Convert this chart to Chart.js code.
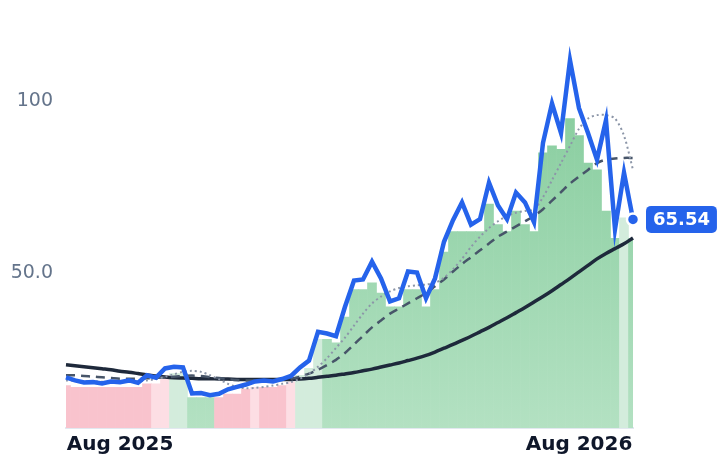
<!DOCTYPE html>
<html>
<head>
<meta charset="utf-8">
<script src="https://cdn.jsdelivr.net/npm/chart.js@4"></script>
<style>
  html, body { margin: 0; padding: 0; background: #fff; }
  #wrap { width: 718px; height: 464px; }
</style>
</head>
<body>
<div id="wrap"><canvas id="myChart"></canvas></div>
<script>
// weekly points, Jun 2025 -> Sep 2026
var price = [19.4,18.5,17.9,18,17.6,18.2,18,18.5,17.8,20,19.3,22,22.5,22.3,14.7,14.8,14.2,14.6,15.9,16.6,17.3,18.2,18.5,18.2,18.9,19.8,22.3,24.3,32.7,32.2,31.4,40,47.7,48,53.2,48.3,41.6,42.5,50.3,50,42.5,48.3,59,65.3,70.5,64,65.6,76.3,69.6,65.6,73.4,70.5,64.7,87.9,99.4,90.8,112,98,90.8,83,94.5,62.7,79.2,65.54];
var maShort = [18.5,18.4,18.3,18.2,18.1,18,18,18.1,18.2,18.5,18.9,19.5,20.3,21,21.3,21,20,18.8,17.5,16.6,16.2,16.3,16.6,17,17.5,18,19,20.5,22.5,25,28,31,34.5,38,41,43,44.5,45.5,46,46.3,46.5,47,48.5,51,54,57.5,60.5,63,65,66.5,67.5,68,68.5,72,77,82,87,92,95,96,96,95,90,80];
var maMid = [20,20,19.8,19.6,19.4,19.2,19,19,19,19.1,19.2,19.4,19.6,19.8,19.9,19.8,19.5,19.2,18.9,18.6,18.5,18.5,18.5,18.6,18.8,19,19.6,20.5,21.6,23,24.5,26.5,29,31.5,34,36,38,39.5,41,42.5,44,46,48,50.3,52.5,54.5,56.5,58.5,60.5,62,63.5,65,66.5,68.5,71,73.5,76,78,80,82,83,83.3,83.5,83.5];
var maLong = [23.1,22.8,22.5,22.2,21.9,21.6,21.2,20.9,20.5,20.1,19.8,19.5,19.3,19.2,19.1,19,19,18.9,18.9,18.8,18.8,18.8,18.8,18.8,18.8,18.8,18.9,19.1,19.4,19.7,20,20.4,20.8,21.3,21.8,22.4,23,23.6,24.3,25,25.8,26.8,27.9,29,30.2,31.4,32.7,34,35.4,36.8,38.3,39.8,41.4,43,44.7,46.5,48.3,50.2,52.1,54,55.6,57,58.4,60.1];
var weekLow = [17,16.5,16.5,16.5,16.5,16.5,16.5,16.5,16.5,17.5,17.5,20,20.5,20.5,13.5,13.5,13.5,13.5,14.5,14.5,16,16.5,16.5,16.5,17,18,20,22,30.5,30.5,29.5,37,45,45,47,44,40,40,45,45,40,45,56,62,62,62,62,70,64,62,68,64,62,85,87,86,95,90,82,80,68,60,66,60];
// R = red, r = light red, g = light green, G = green
var regime = "RRRRRRRRRRrrggGGGRRRRrRRRrgggGGGGGGGGGGGGGGGGGGGGGGGGGGGGGGGGGg";
var tickNames = { 6: "Aug 2025", 57: "Aug 2026" };

var labels = price.map(function (v, i) { return i; });
var lastIdx = price.length - 1;

function barColor(ctx) {
    var k = regime[ctx.dataIndex];
    if (k === "r") return "#fddee4";
    if (k === "R") return "#f9c3cd";
    if (k === "g") return "#d3ecdc";
    var area = ctx.chart.chartArea;
    if (!area) return "#8fd0a4";
    var g = ctx.chart.ctx.createLinearGradient(0, area.top, 0, area.bottom);
    g.addColorStop(0, "#7fc997");
    g.addColorStop(1, "#b3e1c2");
    return g;
}

var lastLabel = {
    id: "lastLabel",
    afterDatasetsDraw: function (chart) {
        var c = chart.ctx;
        var y = chart.scales.y.getPixelForValue(price[lastIdx]);
        var text = price[lastIdx].toFixed(2);
        c.save();
        c.font = "bold 18px 'DejaVu Sans'";
        var w = c.measureText(text).width + 14;
        var x0 = 646, h = 27;
        c.fillStyle = "#2563eb";
        c.beginPath();
        c.roundRect(x0, y - h / 2, w, h, 5);
        c.fill();
        c.fillStyle = "#fff";
        c.textBaseline = "middle";
        c.fillText(text, x0 + 7, y + 1);
        c.restore();
    }
};

new Chart("myChart", {
    type: "line",
    data: {
        labels: labels,
        datasets: [
            { type: "line", data: price, borderColor: "#2563eb", borderWidth: 4.5,
              pointRadius: labels.map(function (i) { return i === lastIdx ? 6 : 0; }),
              pointBackgroundColor: "#2563eb", pointBorderColor: "#fff", pointBorderWidth: 2.5,
              tension: 0, order: 1 },
            { type: "line", data: maShort, borderColor: "#8c96a8", borderWidth: 2,
              borderDash: [2, 3], pointRadius: 0, tension: 0.3, order: 2 },
            { type: "line", data: maMid, borderColor: "#475569", borderWidth: 2.5,
              borderDash: [9, 6], pointRadius: 0, tension: 0.3, order: 3 },
            { type: "line", data: maLong, borderColor: "#1e293b", borderWidth: 3.5,
              pointRadius: 0, tension: 0.3, order: 4 },
            { type: "bar", data: weekLow, backgroundColor: barColor,
              barPercentage: 1, categoryPercentage: 1, order: 10 }
        ]
    },
    options: {
        responsive: true,
        maintainAspectRatio: false,
        animation: false,
        layout: { padding: { top: 20, right: 85, left: 0, bottom: 0 } },
        plugins: { legend: { display: false }, tooltip: { enabled: false } },
        scales: {
            x: {
                offset: false,
                grid: { display: false, drawTicks: false },
                border: { color: "#e2e8f0", width: 2 },
                afterFit: function (s) { s.height = 36; },
                ticks: {
                    autoSkip: false, maxRotation: 0, padding: 5,
                    color: "#0f172a", font: { size: 20, weight: "bold", family: "DejaVu Sans" },
                    callback: function (v) { return tickNames[v] || ""; }
                }
            },
            y: {
                min: 4.6, max: 122.5,
                grid: { display: false, drawTicks: false },
                border: { display: false },
                afterFit: function (s) { s.width = 66; },
                ticks: {
                    stepSize: 50, padding: 13,
                    color: "#64748b", font: { size: 19, family: "DejaVu Sans" },
                    callback: function (v) { return v === 50 ? "50.0" : v === 100 ? "100" : ""; }
                }
            }
        }
    },
    plugins: [lastLabel]
});
</script>
</body>
</html>
